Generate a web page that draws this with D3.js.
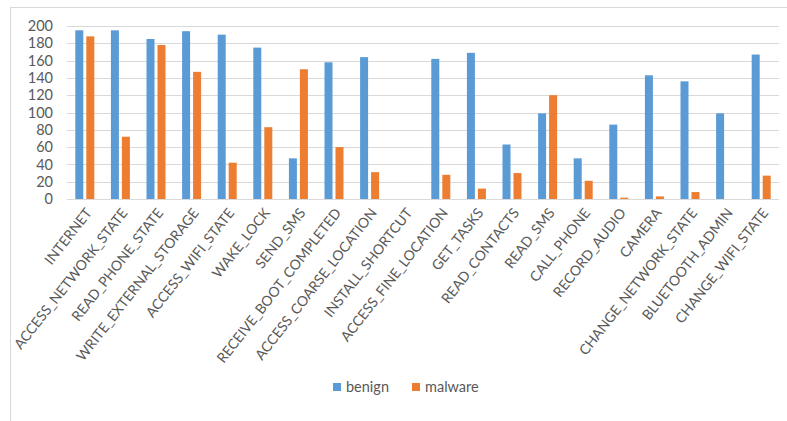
<!DOCTYPE html>
<html>
<head>
<meta charset="utf-8">
<script src="https://cdn.jsdelivr.net/npm/d3@7"></script>
<style>
  body { margin: 0; background: #fff; }
  text { font-family: Lato, "Open Sans", sans-serif; fill: #595959; }
</style>
</head>
<body>
<svg id="canvas" width="787" height="421"></svg>
<script>
var categories = ["INTERNET", "ACCESS_NETWORK_STATE", "READ_PHONE_STATE", "WRITE_EXTERNAL_STORAGE",
  "ACCESS_WIFI_STATE", "WAKE_LOCK", "SEND_SMS", "RECEIVE_BOOT_COMPLETED", "ACCESS_COARSE_LOCATION",
  "INSTALL_SHORTCUT", "ACCESS_FINE_LOCATION", "GET_TASKS", "READ_CONTACTS", "READ_SMS", "CALL_PHONE",
  "RECORD_AUDIO", "CAMERA", "CHANGE_NETWORK_STATE", "BLUETOOTH_ADMIN", "CHANGE_WIFI_STATE"];
var benign = [195, 195, 185, 194, 190, 175, 47, 158, 164, 0, 162, 169, 63, 99, 47, 86, 143, 136, 99, 167];
var malware = [188, 72, 178, 147, 42, 83, 150, 60, 31, 0, 28, 12, 30, 120, 21, 1.5, 3, 8, 0, 27];
var yTicks = [0, 20, 40, 60, 80, 100, 120, 140, 160, 180, 200];
var seriesNames = ["benign", "malware"];
var colors = ["#5b9bd5", "#ed7d31"];

var svg = d3.select("#canvas");

// outer frame
svg.append("rect")
  .attr("x", 10.5).attr("y", 7.5)
  .attr("width", 800).attr("height", 500)
  .attr("fill", "none").attr("stroke", "#d9d9d9");

var plotLeft = 67, plotRight = 779, plotTop = 26, plotBottom = 199;

var x = d3.scaleBand().domain(categories).range([plotLeft, plotRight]);
var y = d3.scaleLinear().domain([0, 200]).range([plotBottom, plotTop]);

// gridlines
svg.append("g").selectAll("line")
  .data(yTicks)
  .enter().append("line")
  .attr("x1", plotLeft).attr("x2", plotRight)
  .attr("y1", function(d){ return Math.round(y(d)) + 0.5; })
  .attr("y2", function(d){ return Math.round(y(d)) + 0.5; })
  .attr("stroke", "#d9d9d9");

// y axis labels
var yAxis = d3.axisLeft(y).tickValues(yTicks).tickSize(0).tickPadding(14);
var yg = svg.append("g").attr("transform", "translate(" + plotLeft + ",0)").call(yAxis);
yg.select(".domain").remove();
yg.selectAll("text").style("font-size", "14.5px").style("font-family", "Lato, sans-serif").attr("fill", "#595959");

// bars
var barW = 8;
var series = [benign, malware];
series.forEach(function(vals, s) {
  svg.append("g").selectAll("rect")
    .data(vals)
    .enter().append("rect")
    .attr("x", function(d, i){ return x(categories[i]) + x.bandwidth() / 2 + (s == 0 ? -9.5 : 1.5); })
    .attr("y", function(d){ return y(d); })
    .attr("width", barW)
    .attr("height", function(d){ return plotBottom - y(d); })
    .attr("fill", colors[s]);
});

// category labels
svg.append("g").selectAll("text")
  .data(categories)
  .enter().append("text")
  .attr("transform", function(d){ return "translate(" + (x(d) + x.bandwidth() / 2 + 4) + ",210) rotate(-52)"; })
  .attr("text-anchor", "end")
  .attr("dy", "0.35em")
  .style("font-size", "14px")
  .text(function(d){ return d; });

// legend
var legendX = [333, 412];
seriesNames.forEach(function(name, s) {
  svg.append("rect")
    .attr("x", legendX[s]).attr("y", 383)
    .attr("width", 8).attr("height", 8)
    .attr("fill", colors[s]);
  svg.append("text")
    .attr("x", legendX[s] + 13).attr("y", 387)
    .attr("dy", "0.35em")
    .style("font-size", "14.5px")
    .text(name);
});
</script>
</body>
</html>
